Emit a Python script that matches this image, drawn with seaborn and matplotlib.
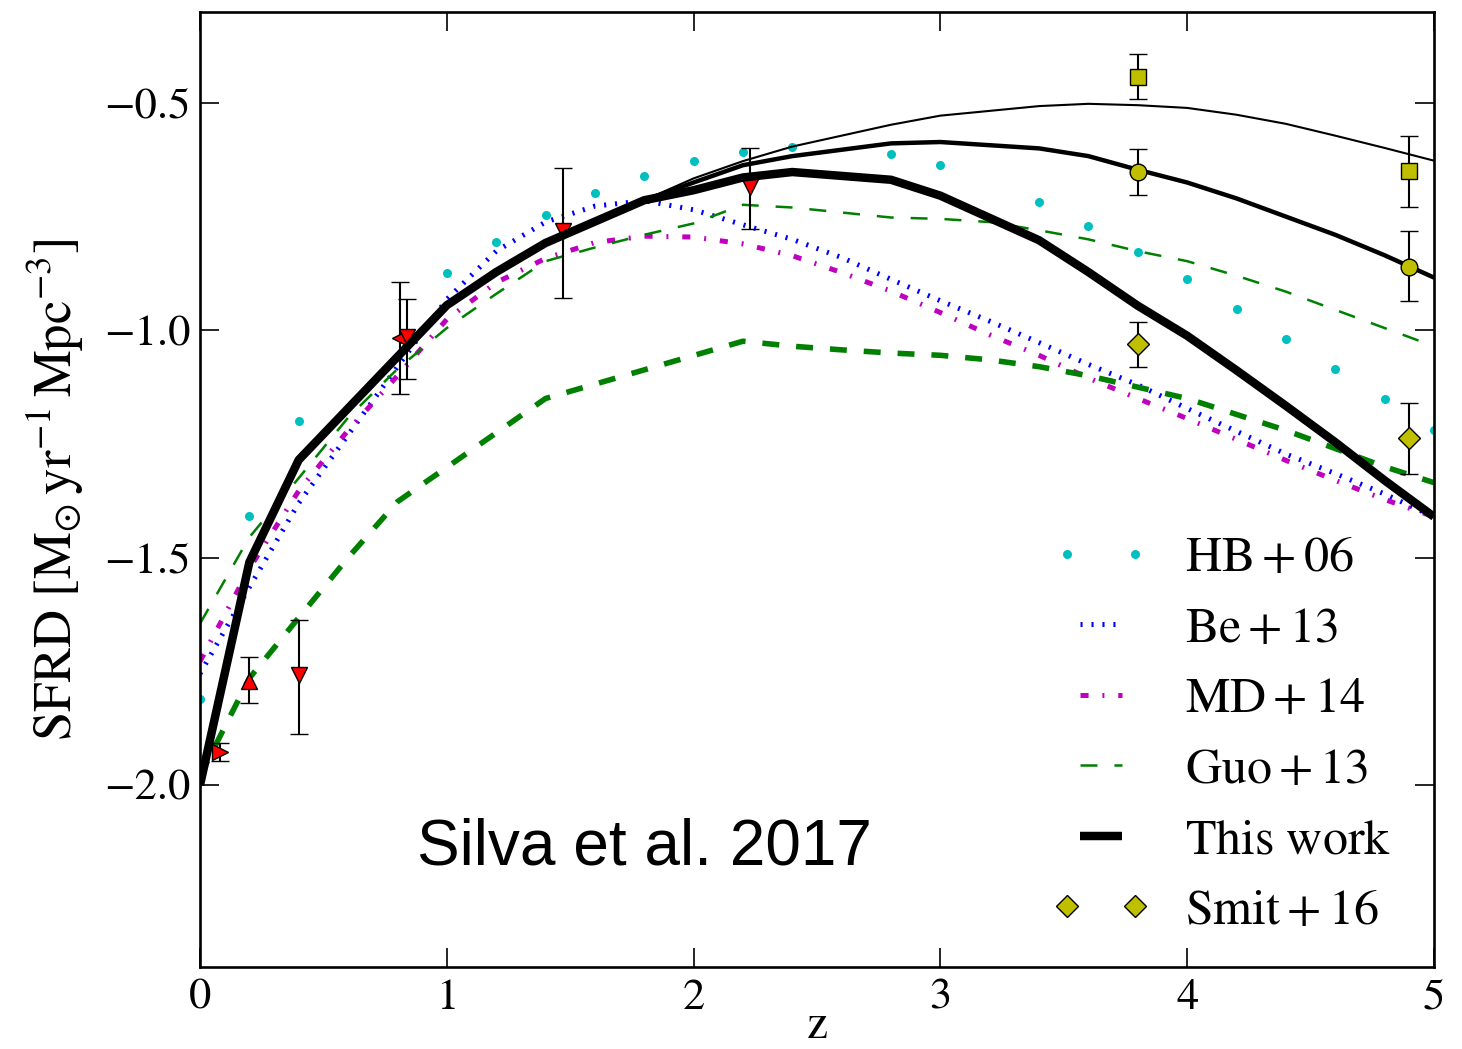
import matplotlib
matplotlib.use("Agg")
import matplotlib.pyplot as plt
import seaborn as sns
from matplotlib.legend_handler import HandlerLine2D

# ---------------------------------------------------------------- data
# model grid shared by this work and HB+06 (redshift z)
z_model = [0.0, 0.2, 0.4, 1.0, 1.2, 1.4, 1.6, 1.8, 2.0, 2.2, 2.4, 2.8,
           3.0, 3.4, 3.6, 3.8, 4.0, 4.2, 4.4, 4.6, 4.8, 5.0]
# log10 SFRD [Msun/yr/Mpc^3]
sfrd_this = [-2.00, -1.51, -1.285, -0.945, -0.872, -0.808, -0.761, -0.714,
             -0.692, -0.664, -0.652, -0.669, -0.704, -0.802, -0.872, -0.946,
             -1.012, -1.088, -1.166, -1.246, -1.330, -1.410]
sfrd_this_mid = [-2.00, -1.51, -1.285, -0.945, -0.872, -0.808, -0.761, -0.714,
                 -0.675, -0.637, -0.617, -0.589, -0.586, -0.600, -0.617, -0.647,
                 -0.675, -0.710, -0.750, -0.790, -0.835, -0.884]
sfrd_this_high = [-2.00, -1.51, -1.285, -0.945, -0.872, -0.808, -0.761, -0.714,
                  -0.666, -0.628, -0.596, -0.548, -0.528, -0.507, -0.502, -0.505,
                  -0.511, -0.526, -0.546, -0.572, -0.599, -0.627]
hb06 = [-1.81, -1.408, -1.20, -0.875, -0.805, -0.746, -0.697, -0.660,
        -0.627, -0.607, -0.596, -0.612, -0.636, -0.717, -0.770, -0.827,
        -0.888, -0.954, -1.020, -1.085, -1.151, -1.220]

z_fine = [0.0, 0.2, 0.4, 0.6, 0.8, 1.0, 1.2, 1.4, 1.6, 1.8, 2.0, 2.2, 2.4,
          2.6, 2.8, 3.0, 3.2, 3.4, 3.6, 3.8, 4.0, 4.2, 4.4, 4.6, 4.8, 5.0]
be13 = [-1.755, -1.565, -1.380, -1.230, -1.080, -0.932, -0.826, -0.762,
        -0.727, -0.715, -0.735, -0.768, -0.800, -0.840, -0.888, -0.935,
        -0.980, -1.027, -1.075, -1.120, -1.172, -1.222, -1.272, -1.315,
        -1.360, -1.410]
md14 = [-1.728, -1.524, -1.353, -1.220, -1.100, -0.976, -0.895, -0.842,
        -0.807, -0.793, -0.795, -0.810, -0.836, -0.873, -0.914, -0.961,
        -1.010, -1.055, -1.105, -1.150, -1.194, -1.240, -1.286, -1.330,
        -1.372, -1.410]

z_guo = [0.0, 0.2, 0.4, 0.6, 0.8, 1.0, 1.2, 1.4, 1.6, 1.8, 2.0, 2.2, 2.4,
         2.8, 3.0, 3.2, 3.4, 3.6, 3.8, 4.0, 4.2, 4.4, 4.6, 4.8, 5.0]
guo13 = [-1.645, -1.455, -1.325, -1.192, -1.085, -0.995, -0.920, -0.848,
         -0.818, -0.790, -0.765, -0.724, -0.730, -0.752, -0.755, -0.762,
         -0.780, -0.800, -0.826, -0.848, -0.880, -0.915, -0.955, -0.995,
         -1.035]
z_guo_b = [0.0, 0.2, 0.4, 0.6, 0.8, 1.4, 2.2, 2.4, 2.6, 2.8, 3.0, 3.2, 3.4,
           3.6, 3.8, 4.0, 4.2, 4.4, 4.6, 4.8, 5.0]
guo13_b = [-1.98, -1.765, -1.632, -1.500, -1.377, -1.150, -1.024, -1.035,
           -1.043, -1.050, -1.055, -1.065, -1.080, -1.100, -1.125, -1.150,
           -1.185, -1.220, -1.260, -1.300, -1.335]

# observational compilation (red triangles)
obs_z = [0.08, 0.20, 0.40, 0.81, 0.84, 1.47, 2.23]
obs_sfrd = [-1.928, -1.772, -1.759, -1.017, -1.015, -0.781, -0.684]
obs_err_lo = [0.019, 0.048, 0.129, 0.123, 0.092, 0.147, 0.094]
obs_err_hi = [0.020, 0.053, 0.122, 0.124, 0.083, 0.138, 0.085]
obs_marker = [">", "^", "v", "<", "v", "v", "v"]

# Smit+16 estimates
smit_z = [3.8, 4.9]
smit_sq = [-0.443, -0.649]
smit_sq_lo = [0.049, 0.079]
smit_sq_hi = [0.051, 0.077]
smit_ci = [-0.651, -0.860]
smit_ci_lo = [0.051, 0.076]
smit_ci_hi = [0.050, 0.079]
smit_di = [-1.031, -1.237]
smit_di_lo = [0.050, 0.079]
smit_di_hi = [0.049, 0.077]

# ---------------------------------------------------------------- style
sns.set_style("ticks")
plt.rcParams.update({
    "font.family": ["STIXGeneral", "DejaVu Serif"],
    "mathtext.fontset": "stix",
    "lines.scale_dashes": False,
    "axes.linewidth": 1.9,
    "axes.edgecolor": "k",
    "axes.labelcolor": "k",
    "text.color": "k",
    "xtick.color": "k",
    "ytick.color": "k",
    "xtick.direction": "in",
    "ytick.direction": "in",
    "xtick.top": True,
    "ytick.right": True,
})

fig = plt.figure(figsize=(14.62, 10.49), dpi=100)
ax = fig.add_axes([0.1368, 0.0782, 0.8440, 0.9104])


def curve(x, y, **kw):
    sns.lineplot(x=x, y=y, ax=ax, sort=False, estimator=None,
                 errorbar=None, legend=False, **kw)
    return ax.lines[-1]


h_hb = curve(z_model, hb06, color="c", marker="o", linestyle="none",
             markersize=6.5, markeredgecolor="c", markeredgewidth=0, zorder=2)
h_be = curve(z_fine, be13, color="b", lw=3.6, zorder=2)
h_be.set_dashes((1.5, 6.4))
h_md = curve(z_fine, md14, color="m", lw=3.6, zorder=2)
h_md.set_dashes((5.8, 10.0, 1.4, 10.0))
h_guo = curve(z_guo, guo13, color="g", lw=1.8, zorder=2)
h_guo.set_dashes((12.2, 12.2))
h_guob = curve(z_guo_b, guo13_b, color="g", lw=4.0, zorder=2)
h_guob.set_dashes((12.2, 12.2))

err_kw = dict(ecolor="k", elinewidth=1.5, capsize=6.5, capthick=1.5,
              markersize=12, markeredgecolor="k", markeredgewidth=1.0)

for zz, yy, lo, hi, mk in zip(obs_z, obs_sfrd, obs_err_lo, obs_err_hi,
                              obs_marker):
    ax.errorbar([zz], [yy], yerr=[[lo], [hi]], fmt=mk, color="r",
                zorder=2.5, **err_kw)

h_thin = curve(z_model, sfrd_this_high, color="k", lw=1.5, zorder=3)
h_mid = curve(z_model, sfrd_this_mid, color="k", lw=3.2, zorder=3)
h_this = curve(z_model, sfrd_this, color="k", lw=6.1, zorder=3)
h_this.set_solid_capstyle("butt")

ax.errorbar(smit_z, smit_sq, yerr=[smit_sq_lo, smit_sq_hi], fmt="s",
            color="y", zorder=4, **err_kw)
ax.errorbar(smit_z, smit_ci, yerr=[smit_ci_lo, smit_ci_hi], fmt="o",
            color="y", zorder=4, **err_kw)
smit = ax.errorbar(smit_z, smit_di, yerr=[smit_di_lo, smit_di_hi], fmt="D",
                   color="y", zorder=4, **{**err_kw, "markersize": 11})
h_smit = smit[0]

ax.set_xlim(0, 5)
ax.set_ylim(-2.4, -0.3)
ax.set_xticks([0, 1, 2, 3, 4, 5])
ax.set_yticks([-2.0, -1.5, -1.0, -0.5])
ax.tick_params(axis="both", which="major", length=14, width=1.2,
               labelsize=32, color="k", labelcolor="k")
ax.tick_params(axis="x", pad=9)
ax.tick_params(axis="y", pad=7)
for s in ax.spines.values():
    s.set_color("k")

ax.set_xlabel(r"$\mathrm{z}$", fontsize=34, labelpad=-9)
ax.set_ylabel(r"$\mathrm{SFRD\ [M_{\odot}\,yr^{-1}\,Mpc^{-3}]}$",
              fontsize=38, labelpad=13)

ax.text(0.36, 0.125, "Silva et al. 2017", transform=ax.transAxes,
        ha="center", va="center", fontsize=46, family="Liberation Sans",
        color="k")

handles = [h_hb, h_be, h_md, h_guo, h_this, h_smit]
labels = [r"$\mathrm{HB+06}$", r"$\mathrm{Be+13}$", r"$\mathrm{MD+14}$",
          r"$\mathrm{Guo+13}$", r"$\mathrm{This\ work}$", r"$\mathrm{Smit+16}$"]
pts = HandlerLine2D(numpoints=2, marker_pad=0.05)
ax.legend(handles, labels, loc="center left",
          bbox_to_anchor=(0.701, 0.2424), frameon=False, fontsize=36,
          handlelength=1.45, handletextpad=0.95, labelspacing=0.49,
          borderpad=0, borderaxespad=0, numpoints=2,
          handler_map={h_hb: pts, h_smit: pts})

fig.savefig("out.png", dpi=100)
